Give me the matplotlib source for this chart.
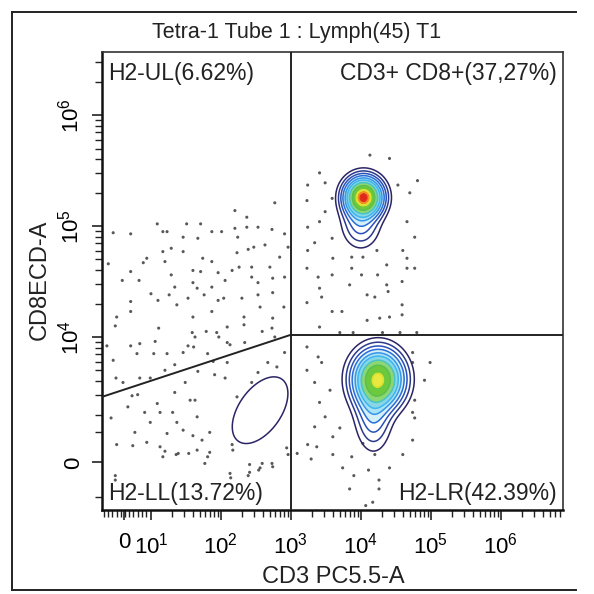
import numpy as np
import matplotlib.pyplot as plt

plt.rcParams['font.family'] = ['Liberation Sans', 'DejaVu Sans']
plt.rcParams['mathtext.fontset'] = 'custom'
plt.rcParams['mathtext.rm'] = 'Liberation Sans'
plt.rcParams['mathtext.it'] = 'Liberation Sans:italic'

# axis units are decades (log10 of intensity, display-compressed below 10^1 / 10^3)
# --- scattered events, per quadrant ---
ul_x = [2.77, 2.20, 2.37, 1.09, 1.51, 1.71, 0.46, 0.71, 1.17, 1.23, 1.87, 2.01, 2.20, 2.37,
        2.53, 2.73, 2.91, 1.46, 1.67, 2.24, 1.29, 1.17, 1.46, 2.39, 2.47, 2.63, 2.96, 2.23,
        0.94, 0.89, 1.20, 1.74, 1.87, 2.84, 0.39, 2.26, 2.44, 2.70, 0.71, 1.60, 1.71, 1.96,
        2.16, 1.29, 2.44, 2.74, 2.91, 0.59, 0.83, 1.60, 2.06, 2.53, 1.66, 1.34, 1.87, 1.00,
        1.26, 1.76, 1.10, 1.53, 1.96, 2.04, 2.30, 2.53, 2.74, 0.71, 1.37, 2.56, 2.90, 0.71,
        1.87, 0.51, 1.60, 2.33, 2.74, 0.49, 1.11, 2.09, 2.33, 1.59, 1.63, 1.79, 1.94, 1.97,
        2.59, 2.73, 1.06, 0.84, 0.71, 1.53, 2.09, 2.77, 0.37]
ul_y = [5.21, 5.14, 5.08, 5.02, 5.02, 5.02, 4.94, 4.93, 4.95, 4.95, 4.95, 4.95, 4.98, 4.99,
        4.99, 4.97, 4.93, 4.90, 4.89, 4.90, 4.80, 4.77, 4.77, 4.79, 4.81, 4.83, 4.81, 4.76,
        4.71, 4.67, 4.68, 4.71, 4.68, 4.72, 4.66, 4.63, 4.63, 4.63, 4.59, 4.60, 4.59, 4.58,
        4.60, 4.56, 4.54, 4.53, 4.54, 4.51, 4.51, 4.49, 4.51, 4.49, 4.44, 4.45, 4.45, 4.39,
        4.38, 4.38, 4.33, 4.35, 4.33, 4.35, 4.35, 4.38, 4.40, 4.32, 4.29, 4.27, 4.27, 4.23,
        4.23, 4.18, 4.18, 4.18, 4.17, 4.10, 4.08, 4.09, 4.11, 4.04, 4.00, 4.05, 4.04, 4.00,
        4.05, 4.08, 3.96, 3.94, 3.92, 3.92, 3.95, 4.00, 3.92]

ll_x = [1.04, 1.23, 1.46, 1.61, 0.80, 1.81, 2.13, 2.34, 2.91, 0.46, 1.20, 1.34, 1.89, 1.67,
        2.09, 2.67, 2.80, 2.53, 0.50, 0.60, 0.84, 0.99, 1.91, 2.06, 2.44, 1.34, 1.49, 0.73,
        0.81, 1.56, 1.63, 1.09, 0.67, 2.23, 1.31, 0.43, 0.91, 1.13, 0.99, 1.66, 1.46, 1.37,
        0.77, 1.23, 1.60, 1.84, 1.73, 0.51, 0.94, 1.13, 2.16, 2.17, 1.39, 1.66, 1.84, 1.81,
        1.17, 2.41, 2.59, 2.73, 1.77, 0.49, 2.13, 2.56, 2.41, 2.94, 2.96, 0.74, 1.20, 1.36,
        1.54, 2.14, 2.39, 2.54, 2.74, 0.49]
ll_y = [3.85, 3.85, 3.86, 3.91, 3.85, 3.85, 3.93, 3.95, 3.86, 3.79, 3.70, 3.75, 3.78, 3.69,
        3.77, 3.77, 3.73, 3.68, 3.63, 3.59, 3.63, 3.63, 3.66, 3.63, 3.59, 3.50, 3.59, 3.47,
        3.48, 3.43, 3.43, 3.40, 3.37, 3.46, 3.32, 3.27, 3.32, 3.32, 3.23, 3.28, 3.16, 3.23,
        3.14, 3.13, 3.11, 3.14, 3.07, 3.03, 3.05, 3.01, 3.03, 2.98, 2.95, 2.98, 2.96, 2.92,
        2.92, 2.85, 2.86, 2.86, 2.86, 2.75, 2.77, 2.82, 2.78, 3.00, 2.94, 3.02, 2.97, 2.94,
        2.95, 2.73, 2.75, 2.80, 2.83, 2.71]

ur_x = [4.13, 4.41, 3.41, 3.24, 3.49, 4.81, 4.53, 4.70, 3.23, 3.59, 3.49, 3.24, 3.41, 4.66,
        4.77, 3.34, 3.59, 4.60, 3.24, 3.87, 3.60, 4.03, 4.23, 4.66, 4.37, 3.23, 3.87, 4.66,
        4.77, 3.39, 3.59, 4.01, 4.24, 3.84, 4.37, 3.41, 4.59, 4.09, 4.20, 4.39, 3.44, 3.23,
        3.59, 3.73, 4.09, 4.27, 4.41, 4.59, 4.59, 3.41, 3.70, 3.89, 4.31, 4.56, 4.80]
ur_y = [5.64, 5.61, 5.48, 5.37, 5.39, 5.41, 5.37, 5.30, 5.23, 5.25, 5.13, 4.99, 5.04, 5.04,
        4.90, 4.85, 4.89, 4.78, 4.78, 4.72, 4.71, 4.72, 4.78, 4.71, 4.65, 4.62, 4.62, 4.62,
        4.62, 4.54, 4.56, 4.56, 4.56, 4.47, 4.47, 4.44, 4.50, 4.38, 4.36, 4.41, 4.36, 4.31,
        4.23, 4.23, 4.15, 4.17, 4.18, 4.29, 4.20, 4.09, 4.04, 4.04, 4.04, 4.04, 4.04]

lr_x = [3.23, 3.39, 3.44, 3.23, 3.34, 3.56, 3.41, 3.49, 3.34, 3.70, 3.60, 4.74, 4.74, 4.77,
        4.74, 4.77, 4.74, 3.24, 3.37, 4.03, 3.09, 3.29, 3.60, 3.87, 4.20, 4.60, 3.74, 3.90,
        4.11, 4.41, 4.26, 3.84, 4.26, 4.07, 4.17, 4.91, 4.99]
lr_y = [3.91, 3.82, 3.77, 3.70, 3.59, 3.52, 3.41, 3.28, 3.19, 3.18, 3.10, 3.86, 3.77, 3.43,
        3.32, 3.27, 3.07, 3.03, 3.01, 3.04, 2.95, 2.90, 2.94, 2.92, 2.94, 2.94, 2.82, 2.75,
        2.80, 2.82, 2.71, 2.63, 2.63, 2.48, 2.51, 3.61, 3.77]

# --- dense populations (peak centre, spread, tilt, relative height) ---
clu_cx = [4.04, 4.00, 4.25, 4.18, 2.56]
clu_cy = [5.26, 5.02, 3.62, 3.33, 3.34]
clu_sx = [0.15, 0.16, 0.20, 0.15, 0.41]
clu_sy = [0.10, 0.13, 0.145, 0.20, 0.31]
clu_rho = [0.0, 0.0, 0.0, 0.0, 0.5]
clu_w = [1.0, 0.12, 0.82, 0.15, 0.048]

# gates
gate_x = 3.0
gate_y = 4.02
gate_left_y = 3.46

quad_labels = ['H2-UL(6.62%)', 'CD3+ CD8+(37,27%)', 'H2-LL(13.72%)', 'H2-LR(42.39%)']
x_ticks = [0.62, 1, 2, 3, 4, 5, 6]
x_ticklabels = ['0', r'$10^1$', r'$10^2$', r'$10^3$', r'$10^4$', r'$10^5$', r'$10^6$']
y_ticks = [2.87, 4, 5, 6]
y_ticklabels = ['0', r'$10^4$', r'$10^5$', r'$10^6$']

xlim = (0.30, 6.89)
ylim = (2.44, 6.57)

fig = plt.figure(figsize=(5.94, 5.94), dpi=100)
ax = fig.add_axes([0.1717, 0.1414, 0.7761, 0.7711])

dot_x = ul_x + ll_x + ur_x + lr_x
dot_y = ul_y + ll_y + ur_y + lr_y
ax.scatter(dot_x, dot_y, s=5, color='#3c3c3c', edgecolors='none', alpha=0.85, zorder=1)

gx = np.linspace(xlim[0], xlim[1], 500)
gy = np.linspace(ylim[0], ylim[1], 500)
X, Y = np.meshgrid(gx, gy)
Z = np.zeros_like(X)
for cx, cy, sx, sy, rho, w in zip(clu_cx, clu_cy, clu_sx, clu_sy, clu_rho, clu_w):
    dx = (X - cx) / sx
    dy = (Y - cy) / sy
    q = (dx**2 - 2 * rho * dx * dy + dy**2) / (1 - rho**2)
    Z += w * np.exp(-0.5 * q)

line_levels = [0.03, 0.06, 0.10, 0.15, 0.22, 0.30, 0.42, 0.58, 0.80, 0.90, 0.97]
line_colors = ['#2b2466', '#2c3a8c', '#2850b8', '#2a6fd6', '#3a95e6', '#40b5ee',
               '#48c4c8', '#5cc050', '#d8e030', '#f09020', '#e03020']
fill_levels = [0.15, 0.22, 0.30, 0.42, 0.58, 0.80, 0.90, 0.97, 2.0]
fill_colors = ['#d2effa', '#a8e2f6', '#88d6e6', '#8cd674', '#6cc83c', '#e8e840',
               '#f09028', '#e02818']
ax.contourf(X, Y, Z, levels=fill_levels, colors=fill_colors, zorder=2)
ax.contour(X, Y, Z, levels=line_levels, colors=line_colors, linewidths=1.1, zorder=3)

ax.plot([gate_x, gate_x], ylim, color='#222222', lw=1.4, zorder=4)
ax.plot([gate_x, xlim[1]], [gate_y, gate_y], color='#222222', lw=1.4, zorder=4)
ax.plot([xlim[0], gate_x], [gate_left_y, gate_y], color='#222222', lw=1.4, zorder=4)

ax.set_xlim(xlim)
ax.set_ylim(ylim)

# ticks
ax.set_xticks(x_ticks)
ax.set_xticklabels(x_ticklabels, fontsize=16)
ax.set_yticks(y_ticks)
ax.set_yticklabels(y_ticklabels, fontsize=16, rotation=90, va='center')
x_minor = [d + np.log10(k) for d in range(1, 7) for k in range(2, 10)]
x_minor = [v for v in x_minor if v < xlim[1]] + list(np.arange(0.33, 0.97, 0.06))
y_minor = [d + np.log10(k) for d in range(3, 7) for k in range(2, 10)]
y_minor = [v for v in y_minor if 3.25 < v < ylim[1]] + [3.14, 2.56]
ax.set_xticks(x_minor, minor=True)
ax.set_yticks(y_minor, minor=True)
ax.tick_params(which='major', direction='out', length=7, width=1.2, color='#222222')
ax.tick_params(which='minor', direction='out', length=5, width=1.0, color='#222222')
ax.tick_params(axis='x', which='major', pad=9)
ax.tick_params(axis='y', which='major', pad=6)

for side in ['left', 'bottom']:
    ax.spines[side].set_linewidth(1.8)
    ax.spines[side].set_color('#111111')
for side in ['top', 'right']:
    ax.spines[side].set_linewidth(1.2)
    ax.spines[side].set_color('#333333')

lab_kw = dict(transform=ax.transAxes, fontsize=16.5, color='#222222', va='center', zorder=5)
ax.text(0.013, 0.952, quad_labels[0], ha='left', **lab_kw)
ax.text(0.987, 0.952, quad_labels[1], ha='right', **lab_kw)
ax.text(0.013, 0.037, quad_labels[2], ha='left', **lab_kw)
ax.text(0.987, 0.037, quad_labels[3], ha='right', **lab_kw)

fig.text(0.5, 0.946, 'Tetra-1 Tube 1 : Lymph(45) T1', ha='center', va='center',
         fontsize=15.5, color='#222222')
fig.text(0.561, 0.029, 'CD3 PC5.5-A', ha='center', va='center', fontsize=17, color='#222222')
fig.text(0.067, 0.529, 'CD8ECD-A', ha='center', va='center', rotation=90, fontsize=17,
         color='#222222')

# outer frame of the printout
fig.add_artist(plt.Line2D([0.0202, 0.0202], [0.0067, 0.9798], color='#222222', lw=1.4))
fig.add_artist(plt.Line2D([0.0202, 0.97], [0.9798, 0.9798], color='#222222', lw=1.4))
fig.add_artist(plt.Line2D([0.0202, 0.97], [0.0067, 0.0067], color='#222222', lw=1.4))

fig.savefig('out.png', dpi=100, facecolor='white')
